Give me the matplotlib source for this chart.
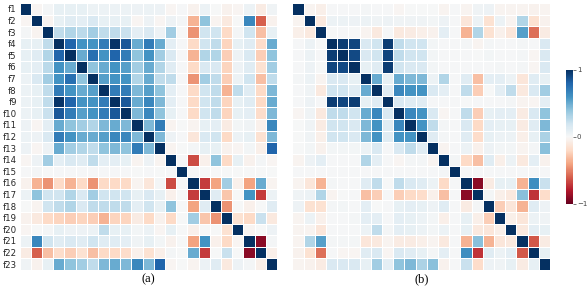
import numpy as np
import matplotlib
matplotlib.use("Agg")
import matplotlib.pyplot as plt

labels = ["f%d" % i for i in range(1, 24)]

# lower triangles of the two correlation matrices (row i, columns 0..i-1)
corr_a = [
    [],
    [-.02],
    [.02, -.03],
    [.08, .08, .25],
    [.08, .12, .3, .8],
    [.08, .1, .27, .6, .5],
    [.06, .15, .35, .6, .75, .4],
    [.06, .08, .25, .7, .6, .5, .55],
    [.06, .08, .25, .98, .8, .6, .6, .7],
    [.06, .08, .22, .85, .7, .55, .6, .7, .85],
    [.05, -.02, .1, .5, .4, .35, .3, .45, .5, .45],
    [.06, .05, .15, .7, .6, .5, .5, .55, .65, .65, .45],
    [.05, -.02, .05, .5, .35, .3, .25, .4, .45, .4, .7, .45],
    [-.02, .05, .35, .1, .15, .12, .25, .1, .1, .08, -.03, .05, -.03],
    [.01, .02, .0, .01, .01, .01, .01, .01, .01, .01, .0, .01, .0, .01],
    [-.04, -.35, -.45, -.2, -.35, -.2, -.45, -.2, -.2, -.2, -.03, -.12, .02, -.65, .0],
    [.06, .4, .2, .2, .3, .15, .35, .2, .2, .2, .08, .15, .08, -.05, .0, -.7],
    [.0, -.03, .2, .25, .3, .15, .25, .25, .25, .25, .1, .2, .08, .4, .0, -.4, .12],
    [-.04, -.1, -.2, -.22, -.25, -.22, -.25, -.35, -.22, -.22, -.08, -.2, -.04, -.2, .0, .35, -.28, -.45],
    [-.02, .0, .02, .08, .05, .05, .06, .25, .08, .08, .03, .06, -.02, .08, .0, -.05, .0, .0, -.15],
    [.06, .65, .2, .12, .15, .12, .2, .12, .12, .1, .04, .08, .03, -.04, .0, -.4, .6, -.05, -.2, -.02],
    [-.08, -.6, -.3, -.18, -.25, -.15, -.3, -.2, -.2, -.18, -.05, -.15, -.06, .02, .0, .5, -.7, .0, .22, .0, -.9],
    [.04, -.04, .08, .5, .4, .35, .25, .45, .5, .45, .65, .45, .8, -.02, .0, -.03, .06, .12, -.1, .05, .02, -.06],
]

corr_b = [
    [],
    [-.03],
    [-.06, -.1],
    [.01, .06, .0],
    [.01, .06, .01, .95],
    [.01, .05, .0, .92, .9],
    [.02, .06, -.03, .15, .15, .08],
    [.01, .04, -.1, .2, .2, .12, .5],
    [.01, .05, .01, .95, .92, .95, .08, .12],
    [-.02, .04, -.1, .25, .25, .2, .5, .65, .15],
    [.0, .04, -.08, .2, .2, .15, .45, .6, .12, .65],
    [.0, .04, -.06, .2, .2, .15, .45, .6, .12, .6, .6],
    [.0, .03, -.04, .03, .03, .03, .06, .15, .01, .15, .25, .12],
    [-.03, .05, .1, .01, .01, .01, .3, .1, .01, -.02, .02, .02, -.03],
    [.01, .01, .01, .01, .01, .01, .01, .01, .01, .01, .01, .01, .01, .02],
    [-.03, -.12, -.35, .02, .01, .01, .12, .25, .0, .25, .15, .12, .06, -.2, .01],
    [.04, .06, .3, -.03, .0, .01, -.3, -.25, .01, -.25, -.2, -.18, -.05, -.3, .01, -.9],
    [.05, -.15, -.15, .02, .03, .01, .1, .0, .01, .08, .1, .08, .05, .12, .01, -.08, .02],
    [-.03, .06, -.05, .01, .01, .02, .1, .1, .01, .1, .08, .06, .03, -.06, .01, .08, -.06, -.25],
    [-.03, -.03, -.12, .01, .01, .01, .06, .25, .02, .1, .08, .06, .03, .06, .01, .08, -.1, -.12, -.06],
    [-.03, .3, .55, .02, .02, .02, -.12, -.1, -.03, -.08, -.08, -.06, -.03, -.1, .01, -.35, .42, -.35, -.12, -.1],
    [-.04, -.15, -.55, .01, -.02, -.02, .12, .15, -.02, .15, .12, .08, .02, .1, .01, .62, -.72, .12, .06, .1, -.62],
    [-.03, -.04, -.08, .15, .15, .15, .08, .35, .1, .4, .45, .32, .42, -.04, .01, .22, -.18, .05, .04, .08, -.08, .08],
]


def full_matrix(tri):
    n = len(tri)
    m = np.eye(n)
    for i, row in enumerate(tri):
        for j, v in enumerate(row):
            m[i, j] = v
            m[j, i] = v
    return m


fig = plt.figure(figsize=(5.88, 2.91), dpi=100)
ax_a = fig.add_axes([0.0332, 0.0722, 0.438, 0.9175])
ax_b = fig.add_axes([0.4974, 0.0722, 0.438, 0.9175])
cax = fig.add_axes([0.9626, 0.299, 0.0112, 0.461])

for ax, tri, tag in [(ax_a, corr_a, "(a)"), (ax_b, corr_b, "(b)")]:
    m = full_matrix(tri)
    mesh = ax.pcolormesh(m, cmap="RdBu", vmin=-1, vmax=1,
                         edgecolors="white", linewidth=0.6)
    ax.set_xlim(0, 23)
    ax.set_ylim(23, 0)
    ax.set_xticks([])
    ax.set_yticks([])
    for s in ax.spines.values():
        s.set_visible(False)
    ax.text(0.5, -0.012, tag, transform=ax.transAxes, ha="center", va="top",
            fontsize=9, family="Liberation Serif")

ax_a.set_yticks(np.arange(23) + 0.5)
ax_a.set_yticklabels(labels, fontsize=6.2, color="#262626")
ax_a.tick_params(axis="y", length=0, pad=2)

cb = fig.colorbar(mesh, cax=cax, ticks=[1, 0, -1])
cb.ax.set_yticklabels(["1", "0", "\u22121"])
cb.ax.tick_params(labelsize=5, length=2, width=0.5, pad=1, colors="#444444")
cb.outline.set_visible(False)

fig.savefig("out.png", dpi=100)
